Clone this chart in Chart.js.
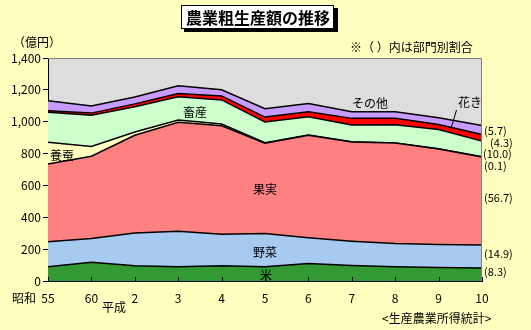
<!DOCTYPE html>
<html>
<head>
<meta charset="utf-8">
<script src="https://cdn.jsdelivr.net/npm/chart.js@4/dist/chart.umd.min.js"></script>
<style>
html,body{margin:0;padding:0;background:#FFFFC0;}
#c{display:block;}
</style>
</head>
<body>
<canvas id="c" width="531" height="330"></canvas>
<script>
// ---- data (億円) ----
const categories = ['55','60','2','3','4','5','6','7','8','9','10'];
const rice      = [90, 117, 96, 90, 96, 90, 110, 98, 90, 85, 81];
const vegetables= [156, 150, 206, 222, 198, 208, 161, 152, 145, 144, 145];
const fruit     = [489, 516, 613, 684, 680, 567, 644, 623, 631, 600, 553];
const sericulture=[136, 61, 20, 15, 11, 3, 2, 1, 1, 1, 1];
const livestock = [189, 196, 159, 145, 152, 131, 114, 105, 114, 121, 98];
const flowers   = [9, 14, 18, 21, 25, 30, 31, 42, 40, 31, 42];
const others    = [62, 45, 43, 49, 38, 53, 53, 42, 41, 43, 56];
const yTickValues = [0, 200, 400, 600, 800, 1000, 1200, 1400];
const shareLabels = ['(5.7)', '(4.3)', '(10.0)', '(0.1)', '(56.7)', '(14.9)', '(8.3)'];

const JP = '"Noto Sans CJK JP", "Noto Sans", sans-serif';

function ds(label, data, color, fill){
  return {label, data, backgroundColor: color, borderColor:'#000', borderWidth:1.5,
    fill, pointRadius:0, tension:0};
}

const decor = {
  id:'decor',
  beforeDraw(chart){
    const {ctx, chartArea:a} = chart;
    ctx.save();
    ctx.fillStyle = '#FFFFC0';
    ctx.fillRect(0,0,chart.width,chart.height);
    ctx.fillStyle = '#DDDDDD';
    ctx.fillRect(a.left, a.top, a.right-a.left, a.bottom-a.top);
    ctx.restore();
  },
  afterDraw(chart){
    const {ctx, chartArea:a} = chart;
    const xs = chart.scales.x;
    ctx.save();
    // plot frame top/right
    ctx.strokeStyle = '#808080'; ctx.lineWidth = 1;
    ctx.beginPath();
    ctx.moveTo(a.left, a.top+0.5); ctx.lineTo(a.right-0.5, a.top+0.5); ctx.lineTo(a.right-0.5, a.bottom);
    ctx.stroke();
    // inner x tick marks
    ctx.strokeStyle = '#000';
    ctx.beginPath();
    xs.ticks.forEach((t,i)=>{
      const x = Math.round(xs.getPixelForTick(i))+0.5;
      ctx.moveTo(x, a.bottom); ctx.lineTo(x, a.bottom-4);
    });
    ctx.stroke();
    // title box
    ctx.fillStyle = '#000';
    ctx.fillRect(184, 8, 154, 24);
    ctx.fillStyle = '#fff';
    ctx.fillRect(181, 5, 153, 24);
    ctx.strokeStyle = '#000'; ctx.lineWidth = 1;
    ctx.strokeRect(181.5, 5.5, 152, 23);
    ctx.fillStyle = '#000';
    ctx.font = 'bold 16px ' + JP;
    ctx.textAlign = 'center'; ctx.textBaseline = 'middle';
    ctx.fillText('農業粗生産額の推移', 258, 17.5);
    // notes
    ctx.font = '12px ' + JP;
    ctx.textAlign = 'left';
    ctx.fillText('（億円）', 13, 42);
    ctx.fillText('※（ ）内は部門別割合', 350, 47);
    ctx.fillText('昭和', 12, 298);
    ctx.fillText('平成', 102, 307);
    ctx.fillText('<生産農業所得統計>', 382, 318);
    // in-plot labels
    ctx.font = '12px ' + JP;
    ctx.fillText('養蚕', 50, 155);
    ctx.fillText('畜産', 183, 112);
    ctx.fillText('果実', 253, 189);
    ctx.fillText('野菜', 253, 252);
    ctx.fillText('米', 260, 275);
    ctx.fillText('その他', 352, 103);
    ctx.fillText('花き', 458, 102);
    ctx.beginPath();
    ctx.moveTo(456.5, 110); ctx.lineTo(451.5, 127);
    ctx.lineWidth = 1; ctx.stroke();
    // shares
    ctx.font = '11px ' + JP;
    const pos = [[484,131],[490,143],[483,154],[484,166],[484,198],[484,254],[484,272]];
    shareLabels.forEach((s,i)=>ctx.fillText(s, pos[i][0], pos[i][1]));
    ctx.restore();
  }
};

new Chart(document.getElementById('c'), {
  type:'line',
  data:{
    labels: categories,
    datasets:[
      ds('米', rice, '#339933', 'origin'),
      ds('野菜', vegetables, '#A6CAF0', '-1'),
      ds('果実', fruit, '#FF8080', '-1'),
      ds('養蚕', sericulture, '#FFFFC0', '-1'),
      ds('畜産', livestock, '#CCFFCC', '-1'),
      ds('花き', flowers, '#FF0000', '-1'),
      ds('その他', others, '#C89CFF', '-1')
    ]
  },
  options:{
    responsive:false,
    animation:false,
    layout:{padding:{top:58, right:49, left:0, bottom:0}},
    plugins:{legend:{display:false}, tooltip:{enabled:false}},
    scales:{
      x:{
        offset:false,
        grid:{display:false, drawTicks:false},
        border:{display:true, color:'#000', width:1},
        ticks:{color:'#000', font:{size:12, family:JP}, padding:10, maxRotation:0, autoSkip:false},
        afterFit(s){ s.height = 49; }
      },
      y:{
        stacked:true,
        min:0, max:1400,
        afterBuildTicks(s){ s.ticks = yTickValues.map(v=>({value:v})); },
        grid:{drawOnChartArea:false, drawTicks:true, tickLength:5, color:'#000'},
        border:{display:true, color:'#000', width:1},
        ticks:{color:'#000', font:{size:12, family:JP}, padding:2,
          callback:(v)=>Number(v).toLocaleString('en-US')},
        afterFit(s){ s.width = 48; }
      }
    }
  },
  plugins:[decor]
});
</script>
</body>
</html>
